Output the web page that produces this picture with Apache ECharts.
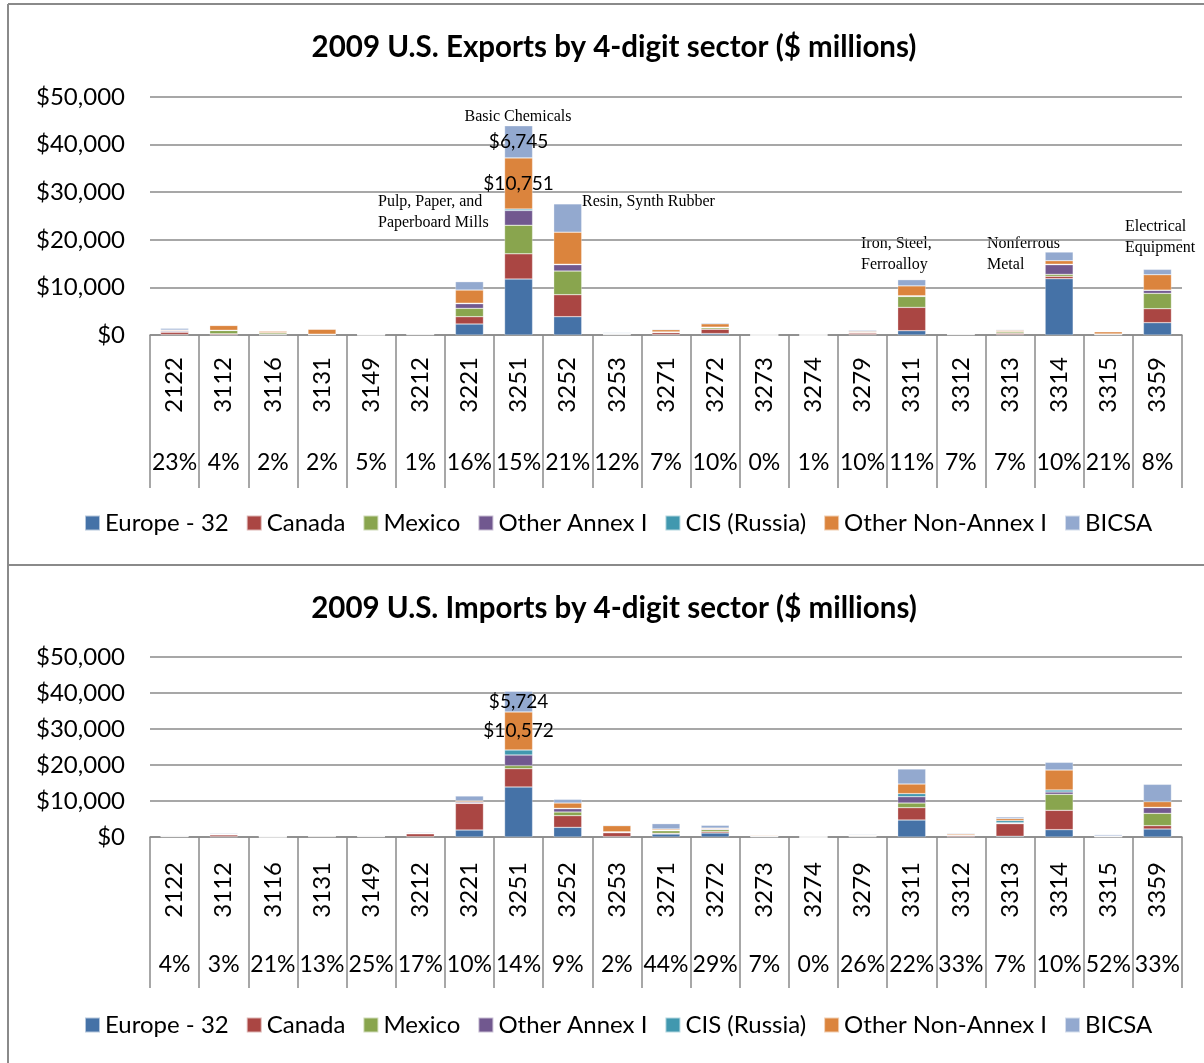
<!DOCTYPE html>
<html>
<head>
<meta charset="utf-8">
<title>2009 U.S. Exports / Imports by 4-digit sector</title>
<script src="https://cdn.jsdelivr.net/npm/echarts@6/dist/echarts.min.js"></script>
<style>
  html, body { margin: 0; padding: 0; background: #fff; }
  #chart { width: 1204px; height: 1063px; }
</style>
</head>
<body>
<div id="chart"></div>
<script>
// sectors (4-digit NAICS)
const sectors = ['2122', '3112', '3116', '3131', '3149', '3212', '3221', '3251', '3252', '3253', '3271',
  '3272', '3273', '3274', '3279', '3311', '3312', '3313', '3314', '3315', '3359']

const regionNames = ['Europe - 32', 'Canada', 'Mexico', 'Other Annex I', 'CIS (Russia)', 'Other Non-Annex I', 'BICSA']
const regionColors = ['#4572A7', '#AA4643', '#89A54E', '#71588F', '#4198AF', '#DB843D', '#93A9CF']

// exports, $ millions
const exEurope   = [100, 50, 50, 50, 20, 50, 2310, 11760, 3850, 50, 100, 300, 0, 0, 100, 900, 50, 100, 11830, 50, 2590]
const exCanada   = [500, 200, 100, 50, 20, 100, 1540, 5300, 4620, 100, 400, 900, 0, 0, 300, 4900, 100, 250, 490, 100, 2940]
const exMexico   = [50, 700, 300, 50, 10, 50, 1750, 6000, 4970, 50, 100, 300, 0, 0, 100, 2300, 50, 300, 420, 50, 3220]
const exOtherAnx = [200, 50, 50, 20, 10, 30, 980, 3100, 1330, 50, 50, 100, 0, 0, 50, 100, 30, 50, 2030, 20, 630]
const exCIS      = [50, 0, 0, 0, 0, 0, 100, 300, 100, 0, 0, 50, 0, 0, 0, 50, 0, 20, 100, 0, 50]
const exNonAnx   = [150, 1000, 300, 1050, 20, 100, 2770, 10751, 6730, 100, 450, 700, 0, 0, 200, 2070, 50, 250, 740, 450, 3240]
const exBICSA    = [350, 100, 100, 40, 20, 90, 1750, 6745, 5940, 150, 150, 200, 0, 0, 230, 1300, 70, 150, 1820, 100, 1120]
const exShare    = ['23%', '4%', '2%', '2%', '5%', '1%', '16%', '15%', '21%', '12%', '7%', '10%', '0%', '1%', '10%', '11%', '7%', '7%', '10%', '21%', '8%']

// imports, $ millions
const imEurope   = [100, 100, 20, 100, 100, 100, 1940, 13890, 2680, 100, 830, 1110, 50, 0, 100, 4720, 100, 200, 2040, 50, 2220]
const imCanada   = [100, 500, 20, 150, 100, 800, 7400, 5090, 3250, 1100, 200, 370, 100, 0, 100, 3430, 300, 3500, 5370, 50, 930]
const imMexico   = [50, 50, 10, 50, 50, 50, 100, 840, 1010, 50, 700, 550, 50, 0, 150, 1290, 100, 100, 4440, 50, 3420]
const imOtherAnx = [50, 50, 10, 50, 50, 50, 300, 2960, 930, 150, 100, 200, 50, 0, 50, 1760, 100, 150, 650, 50, 1580]
const imCIS      = [0, 0, 0, 0, 0, 0, 50, 1390, 100, 50, 100, 50, 0, 0, 0, 840, 0, 600, 560, 0, 100]
const imNonAnx   = [100, 100, 20, 100, 100, 100, 300, 10572, 1470, 1700, 300, 200, 200, 0, 150, 2680, 300, 560, 5550, 100, 1560]
const imBICSA    = [150, 220, 20, 100, 150, 200, 1300, 5724, 1020, 180, 1470, 760, 100, 0, 190, 4170, 210, 450, 2130, 350, 4820]
const imShare    = ['4%', '3%', '21%', '13%', '25%', '17%', '10%', '14%', '9%', '2%', '44%', '29%', '7%', '0%', '26%', '22%', '33%', '7%', '10%', '52%', '33%']

const exportSeries = [exEurope, exCanada, exMexico, exOtherAnx, exCIS, exNonAnx, exBICSA]
const importSeries = [imEurope, imCanada, imMexico, imOtherAnx, imCIS, imNonAnx, imBICSA]

// segments that carry a value label: [region index, sector]
const labelledSegments = [[5, '3251'], [6, '3251']]

// sector names written on the export chart
const exportNotes = [
  { text: 'Basic Chemicals', x: 518, y: 106, align: 'center' },
  { text: 'Pulp, Paper, and\nPaperboard Mills', x: 378, y: 191, align: 'left' },
  { text: 'Resin, Synth Rubber', x: 582, y: 191, align: 'left' },
  { text: 'Iron, Steel,\nFerroalloy', x: 861, y: 233, align: 'left' },
  { text: 'Nonferrous\nMetal', x: 987, y: 233, align: 'left' },
  { text: 'Electrical\nEquipment', x: 1125, y: 216, align: 'left' }
]

const FONT = 'Lato, "Open Sans", sans-serif'
const GREY = '#8a8a8a'

const chart = echarts.init(document.getElementById('chart'), null, { renderer: 'canvas' })

function money(v) {
  return '$' + Number(v).toLocaleString('en-US')
}

function buildSeries(dataSets, axisIdx, stack) {
  return dataSets.map((values, r) => ({
    name: regionNames[r],
    type: 'bar',
    stack: stack,
    xAxisIndex: axisIdx * 2,
    yAxisIndex: axisIdx,
    barWidth: 28,
    itemStyle: { color: regionColors[r], borderColor: 'rgba(255,255,255,0.6)', borderWidth: 0.5 },
    data: values.map((v, i) => {
      const lab = labelledSegments.some(s => s[0] === r && s[1] === sectors[i])
      if (!lab) return v
      return {
        value: v,
        label: {
          show: true, position: 'inside', formatter: p => money(p.value),
          color: '#000', fontSize: 19, fontFamily: FONT
        }
      }
    })
  }))
}

function codeAxis(gridIndex, tickLen, margin) {
  return {
    type: 'category', gridIndex: gridIndex, data: sectors, boundaryGap: true,
    axisLine: { lineStyle: { color: GREY, width: 1.5 } },
    axisTick: { show: true, interval: 0, length: tickLen, lineStyle: { color: GREY, width: 1.5 } },
    axisLabel: { interval: 0, rotate: 90, margin: margin, color: '#000', fontSize: 24, fontFamily: FONT }
  }
}

function shareAxis(gridIndex, shares) {
  return {
    type: 'category', gridIndex: gridIndex, data: shares, position: 'bottom',
    axisLine: { show: false }, axisTick: { show: false },
    axisLabel: { interval: 0, margin: 116, color: '#000', fontSize: 23, fontFamily: FONT }
  }
}

function valueAxis(gridIndex) {
  return {
    type: 'value', gridIndex: gridIndex, min: 0, max: 50000, interval: 10000,
    axisLine: { show: false }, axisTick: { show: false },
    splitLine: { lineStyle: { color: GREY, width: 1.5 } },
    axisLabel: { formatter: money, margin: 25, color: '#000', fontSize: 24, fontFamily: FONT }
  }
}

const legendBase = {
  data: regionNames, left: 84, padding: 0, icon: 'rect', itemWidth: 15, itemHeight: 15, itemGap: 17,
  textStyle: { color: '#000', fontSize: 24, fontFamily: FONT }
}

const titleStyle = { fontSize: 29.5, fontWeight: 'bold', color: '#000', fontFamily: FONT }

const option = {
  animation: false,
  backgroundColor: '#fff',
  title: [
    { text: '2009 U.S. Exports by 4-digit sector ($ millions)', left: 609, textAlign: 'center', top: 27, textStyle: titleStyle },
    { text: '2009 U.S. Imports by 4-digit sector ($ millions)', left: 609, textAlign: 'center', top: 588, textStyle: titleStyle }
  ],
  legend: [
    Object.assign({ top: 511 }, legendBase),
    Object.assign({ top: 1013 }, legendBase)
  ],
  grid: [
    { left: 150, right: 22, top: 97, height: 238 },
    { left: 150, right: 22, top: 657, height: 180 }
  ],
  xAxis: [codeAxis(0, 153, 22), shareAxis(0, exShare), codeAxis(1, 151, 25), shareAxis(1, imShare)],
  yAxis: [valueAxis(0), valueAxis(1)],
  series: buildSeries(exportSeries, 0, 'ex').concat(buildSeries(importSeries, 1, 'im')),
  graphic: [
    { type: 'line', shape: { x1: 8, y1: 4, x2: 8, y2: 1063 }, style: { stroke: GREY, lineWidth: 2 } },
    { type: 'line', shape: { x1: 8, y1: 4, x2: 1204, y2: 4 }, style: { stroke: GREY, lineWidth: 2 } },
    { type: 'line', shape: { x1: 8, y1: 565, x2: 1204, y2: 565 }, style: { stroke: GREY, lineWidth: 2 } }
  ].concat(exportNotes.map(n => ({
    type: 'text', x: n.x, y: n.y,
    style: {
      text: n.text, fill: '#000', font: '16px "Liberation Serif", "Times New Roman", serif',
      lineHeight: 21, align: n.align, verticalAlign: 'top'
    }
  })))
}

chart.setOption(option)
</script>
</body>
</html>
